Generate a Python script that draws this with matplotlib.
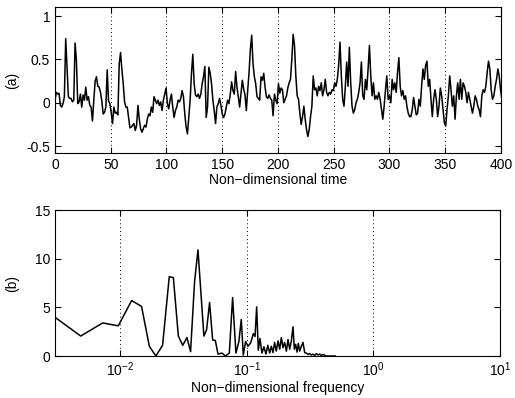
import numpy as np
import matplotlib
matplotlib.use("Agg")
import matplotlib.pyplot as plt
from matplotlib.ticker import LogLocator, NullLocator

dt = 1.2
series_a = [
    0.03, 0.12, 0.10, 0.11, -0.03, -0.05, -0.01, 0.07, 0.74, 0.41,
    0.07, 0.05, 0.05, 0.01, 0.03, 0.69, 0.49, -0.01, 0.01, 0.10,
    -0.05, 0.09, 0.03, 0.18, 0.03, 0.07, -0.03, -0.05, -0.21, 0.03,
    0.25, 0.30, 0.19, 0.18, 0.12, 0.02, -0.13, -0.11, -0.05, 0.38,
    0.02, -0.01, -0.11, -0.24, -0.05, -0.12, -0.11, -0.14, 0.45, 0.58,
    0.38, 0.22, 0.01, -0.05, -0.05, -0.17, -0.29, -0.28, -0.26, -0.24,
    -0.32, -0.26, -0.03, -0.19, -0.30, -0.34, -0.30, -0.26, -0.28, -0.19,
    -0.13, -0.15, -0.05, -0.11, 0.07, 0.03, -0.01, 0.03, -0.03, 0.01,
    -0.09, 0.03, 0.10, 0.17, -0.01, -0.07, 0.03, 0.10, -0.05, -0.17,
    -0.09, -0.05, 0.03, 0.01, 0.05, 0.14, 0.07, -0.13, -0.28, -0.36,
    -0.17, 0.03, 0.34, 0.56, 0.22, 0.09, 0.07, 0.10, 0.05, 0.10,
    0.22, 0.30, 0.42, -0.17, -0.05, 0.41, 0.34, 0.22, 0.03, -0.09,
    -0.24, -0.05, -0.01, 0.05, -0.03, -0.13, -0.17, -0.13, -0.05, 0.03,
    -0.01, 0.10, 0.24, 0.14, 0.10, 0.36, 0.18, 0.07, -0.05, 0.10,
    0.26, 0.16, 0.09, -0.09, 0.14, 0.34, 0.61, 0.78, 0.45, 0.30,
    0.22, 0.07, 0.05, 0.03, 0.30, 0.26, 0.34, 0.18, 0.07, 0.05,
    0.09, 0.05, 0.03, -0.15, 0.10, 0.03, -0.01, 0.22,
    0.11, 0.17, 0.15, 0.00, 0.04, 0.08, 0.17, 0.23, 0.27, 0.50,
    0.79, 0.66, 0.31, 0.08, 0.04, -0.12, -0.25, -0.16, -0.04, -0.19,
    -0.31, -0.39, -0.31, -0.16, -0.04, 0.31, 0.15, 0.17, 0.08, 0.19,
    0.14, 0.23, 0.08, 0.15, 0.27, 0.12, 0.08, 0.12, 0.10, 0.15,
    0.14, 0.23, 0.19, 0.27, 0.43, 0.70, 0.31, 0.04, -0.04, 0.19,
    0.47, 0.19, 0.64, 0.23, -0.04, -0.12, -0.08, 0.00, 0.04, 0.12,
    0.23, 0.47, 0.08, 0.04, 0.27, 0.15, 0.39, 0.66, 0.31, 0.08,
    0.23, 0.04, 0.08, 0.04, 0.12, 0.04, -0.08, -0.19, -0.04, 0.15,
    0.31, 0.04, 0.08, 0.00, 0.27, 0.15, 0.23, 0.12, 0.35, 0.52,
    0.19, 0.08, 0.14, 0.04, 0.08, -0.04, -0.12, -0.16, -0.16, -0.08,
    0.06, -0.04, -0.14, -0.12, 0.04, -0.04, 0.19, 0.39, 0.27, 0.43,
    0.48, 0.19, 0.27, 0.04, -0.16, 0.04, 0.15, 0.04, -0.16, -0.04,
    0.17, 0.08, -0.08, -0.23, -0.27, -0.08, 0.08, 0.31, 0.15, -0.04,
    0.08, -0.19, 0.08, 0.23, 0.04, 0.27, 0.04, 0.23, 0.19, 0.12,
    0.00, 0.12, 0.04, -0.04, -0.12, -0.04, 0.08, 0.04, -0.04, -0.08,
    -0.16, 0.08, 0.15, 0.12, 0.19, 0.35, 0.48, 0.39, 0.15, 0.04,
    0.08, 0.19, 0.27, 0.39, 0.31, 0.15, 0.04, 0.00,
]
time_a = np.arange(len(series_a)) * dt

# (b) spectrum
freq_b = [
    0.00298, 0.0049, 0.0073, 0.0097, 0.01236, 0.0148, 0.01706, 0.0192,
    0.0217, 0.0245, 0.0264, 0.0289, 0.0313, 0.0338, 0.0361, 0.0388,
    0.0413, 0.0434, 0.046, 0.0483, 0.0510, 0.0539, 0.0566, 0.0594,
    0.0639, 0.0679, 0.073, 0.0775, 0.0823, 0.0869, 0.0907, 0.0941,
    0.0982, 0.1025, 0.1076, 0.113, 0.1165, 0.1200, 0.1236, 0.1274,
    0.1321, 0.137, 0.142, 0.147, 0.152, 0.1567, 0.1614, 0.1663,
    0.1714, 0.177, 0.1824, 0.188, 0.1936, 0.1995, 0.206, 0.2122,
    0.2187, 0.2254, 0.2323, 0.238, 0.2438, 0.25, 0.256, 0.2624,
    0.2704, 0.2786, 0.2874, 0.2963, 0.3055, 0.3148, 0.3245, 0.334,
    0.345, 0.3556, 0.3664, 0.3776, 0.389, 0.401, 0.4266, 0.5,
]
power_b = [
    4.1, 2.05, 3.4, 3.1, 5.7, 5.1, 1.0, 0.0,
    1.1, 8.15, 8.05, 2.05, 1.1, 1.9, 0.45, 7.6,
    10.9, 6.8, 2.05, 2.7, 5.5, 1.65, 1.6, 0.2,
    0.3, 0.0, 0.3, 6.0, 0.3, 1.5, 3.75, 0.1,
    1.5, 1.0, 1.35, 2.3, 2.0, 5.05, 0.6, 1.8,
    0.3, 0.95, 0.2, 1.1, 0.3, 1.0, 0.35, 1.4,
    0.5, 1.55, 0.7, 1.9, 0.85, 1.4, 0.5, 1.7,
    0.7, 1.55, 3.0, 0.7, 1.2, 0.4, 1.3, 0.5,
    1.0, 1.4, 0.35, 0.3, 0.15, 0.25, 0.1, 0.2,
    0.05, 0.25, 0.1, 0.2, 0.05, 0.15, 0.0, 0.0,
]

plt.rcParams['font.family'] = ['Liberation Sans', 'DejaVu Sans']
plt.rcParams['font.size'] = 10

fig = plt.figure(figsize=(5.15, 3.98), dpi=100)
ax1 = fig.add_axes([0.1068, 0.6156, 0.866, 0.3656])
ax2 = fig.add_axes([0.1068, 0.1055, 0.864, 0.3668])

grid_style = dict(color='k', linestyle=(0, (1, 3)), linewidth=0.7)

ax1.plot(time_a, series_a, color='k', linewidth=1.1)
ax1.set_xlim(0, 400)
ax1.set_ylim(-0.58, 1.1)
ax1.set_xticks(range(0, 401, 50))
ax1.set_yticks([-0.5, 0, 0.5, 1])
ax1.set_yticklabels(['-0.5', '0', '0.5', '1'])
for xv in range(50, 400, 50):
    ax1.axvline(xv, **grid_style)
ax1.set_xlabel('Non\u2212dimensional time', labelpad=1)
ax1.set_ylabel('(a)', labelpad=5)

ax2.plot(freq_b, power_b, color='k', linewidth=1.1)
ax2.set_xscale('log')
ax2.set_xlim(0.00307, 10)
ax2.set_ylim(0, 15)
ax2.xaxis.set_major_locator(LogLocator(base=10, numticks=10))
ax2.xaxis.set_minor_locator(NullLocator())
ax2.set_yticks([0, 5, 10, 15])
for xv in [0.01, 0.1, 1]:
    ax2.axvline(xv, **grid_style)
ax2.set_xlabel('Non\u2212dimensional frequency', labelpad=1)
ax2.set_ylabel('(b)', labelpad=11)

for ax in (ax1, ax2):
    ax.tick_params(direction='in', top=True, right=True, length=4, width=0.8, labelsize=10)
    for s in ax.spines.values():
        s.set_linewidth(0.8)

fig.savefig('out.png', dpi=100)
